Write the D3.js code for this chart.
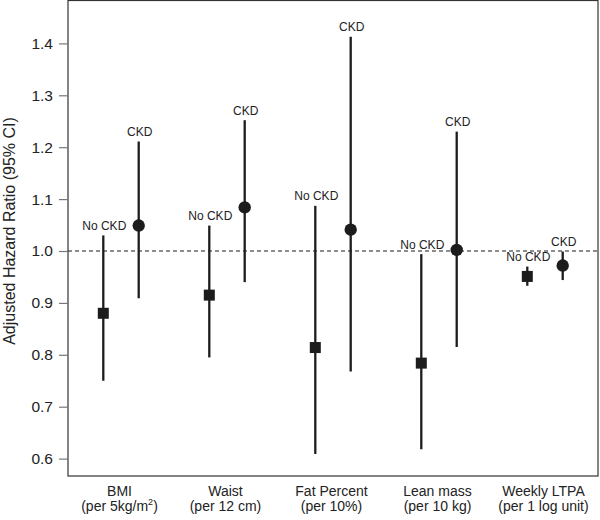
<!DOCTYPE html>
<html>
<head>
<meta charset="utf-8">
<script src="https://cdn.jsdelivr.net/npm/d3@7"></script>
<style>
  body { margin: 0; background: #fff; }
  svg { display: block; font-family: "Liberation Sans", Arial, sans-serif; }
</style>
</head>
<body>
<div id="chart"></div>
<script>
// ── Datos ────────────────────────────────────────────────
const categories = ['BMI', 'Waist', 'Fat Percent', 'Lean mass', 'Weekly LTPA'];
const subLabels  = [['(per 5kg/m', '2', ')'], ['(per 12 cm)'], ['(per 10%)'], ['(per 10 kg)'], ['(per 1 log unit)']];

const noCkdEst = [0.880, 0.915, 0.814, 0.784, 0.951];
const noCkdLo  = [0.750, 0.795, 0.609, 0.618, 0.933];
const noCkdHi  = [1.030, 1.049, 1.087, 0.994, 0.970];

const ckdEst = [1.049, 1.084, 1.041, 1.002, 0.972];
const ckdLo  = [0.909, 0.940, 0.768, 0.815, 0.944];
const ckdHi  = [1.211, 1.252, 1.413, 1.230, 0.999];

const yTicks = [0.6, 0.7, 0.8, 0.9, 1.0, 1.1, 1.2, 1.3, 1.4];

// ── Layout ───────────────────────────────────────────────
const W = 600, H = 520;
const mLeft = 68, mRight = 598, mTop = 0.5, mBottom = 476;
const ink = '#1c1c1c';

const svg = d3.select('#chart').append('svg').attr('width', W).attr('height', H);

const x = d3.scaleBand().domain(categories).range([mLeft, mRight]).padding(0);
const y = d3.scaleLinear().domain([0.5665, 1.4836]).range([mBottom, 0]);
const off = 17.7;

// Caja
svg.append('rect')
    .attr('x', mLeft).attr('y', mTop)
    .attr('width', mRight - mLeft).attr('height', mBottom - mTop)
    .attr('fill', 'none').attr('stroke', '#333').attr('stroke-width', 1.2);

// Eje Y
const yAxis = svg.append('g')
    .attr('transform', `translate(${mLeft},0)`)
    .call(d3.axisLeft(y).tickValues(yTicks).tickFormat(d3.format('.1f')).tickSize(9).tickPadding(6));
yAxis.select('.domain').remove();
yAxis.selectAll('.tick line').attr('stroke', '#777').attr('stroke-width', 1.2);
yAxis.selectAll('.tick text')
    .attr('fill', '#222').style('font-size', '15.5px')
    .style('font-family', '"Liberation Sans", Arial, sans-serif');

svg.append('text')
    .attr('transform', `translate(14.5,231) rotate(-90)`)
    .attr('text-anchor', 'middle')
    .style('font-size', '16px').attr('fill', '#222')
    .text('Adjusted Hazard Ratio (95% CI)');

// Etiquetas X (dos líneas)
categories.forEach((c, i) => {
    const cx = x(c) + x.bandwidth() / 2 - 1.5;
    svg.append('text').attr('x', cx).attr('y', 495.5)
        .attr('text-anchor', 'middle').style('font-size', '14px').attr('fill', '#222')
        .text(c);
    const t = svg.append('text').attr('x', cx).attr('y', 511.2)
        .attr('text-anchor', 'middle').style('font-size', '14px').attr('fill', '#222');
    const parts = subLabels[i];
    t.append('tspan').text(parts[0]);
    if (parts.length > 1) {
        t.append('tspan').attr('dy', -6).style('font-size', '9px').text(parts[1]);
        t.append('tspan').attr('dy', 6).text(parts[2]);
    }
});

// Línea de referencia
svg.append('line')
    .attr('x1', mLeft).attr('x2', mRight)
    .attr('y1', y(1)).attr('y2', y(1))
    .attr('stroke', ink).attr('stroke-width', 1.1)
    .attr('stroke-dasharray', '4,3');

// Intervalos y puntos
const series = [
    { est: noCkdEst, lo: noCkdLo, hi: noCkdHi, dx: -off, label: 'No CKD', shape: 'square' },
    { est: ckdEst,   lo: ckdLo,   hi: ckdHi,   dx:  off, label: 'CKD',    shape: 'circle' }
];

series.forEach(s => {
    const g = svg.append('g');
    categories.forEach((c, i) => {
        const cx = x(c) + x.bandwidth() / 2 + s.dx;
        g.append('line')
            .attr('x1', cx).attr('x2', cx)
            .attr('y1', y(s.hi[i])).attr('y2', y(s.lo[i]))
            .attr('stroke', ink).attr('stroke-width', 2.3);
        if (s.shape === 'square') {
            g.append('rect')
                .attr('x', cx - 5.5).attr('y', y(s.est[i]) - 5.5)
                .attr('width', 11).attr('height', 11)
                .attr('fill', ink);
        } else {
            g.append('circle')
                .attr('cx', cx).attr('cy', y(s.est[i])).attr('r', 6.2)
                .attr('fill', ink);
        }
        g.append('text')
            .attr('x', cx + 1).attr('y', y(s.hi[i]) - 5.5)
            .attr('text-anchor', 'middle')
            .style('font-size', '12px').attr('fill', '#222')
            .text(s.label);
    });
});
</script>
</body>
</html>
